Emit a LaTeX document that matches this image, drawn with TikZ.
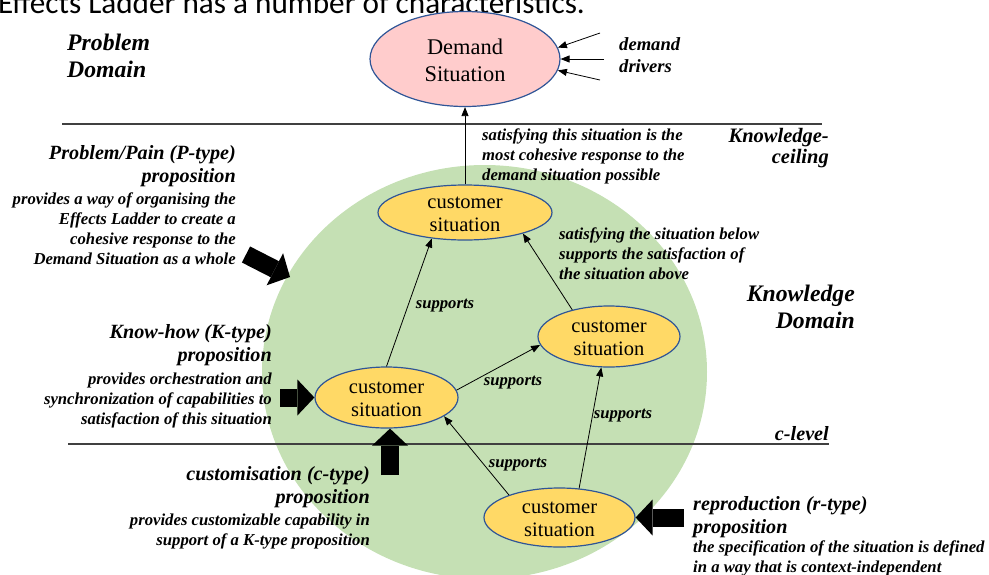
\documentclass[tikz,border=0pt]{standalone}
\usepackage{fontspec}
\setmainfont{Liberation Serif}
\newfontfamily\slidefont{Carlito}
\usetikzlibrary{
    arrows.meta,
    positioning,
    calc,
    shapes.geometric
}
\definecolor{areagreen}{RGB}{197,224,180}
\definecolor{demandpink}{RGB}{255,204,204}
\definecolor{sityellow}{RGB}{255,217,102}
\definecolor{rimblue}{RGB}{47,85,151}
\definecolor{levelgray}{RGB}{64,64,64}
\tikzset{
    % --- Knowledge domain (green background ellipse) ---
    area_fill/.style = {
        ellipse, fill=areagreen, draw=none, inner sep=0pt
    },
    % --- Demand situation ellipse ---
    demand_node/.style = {
        ellipse, draw=rimblue, line width=1.2pt, fill=demandpink,
        inner sep=0pt, minimum width=190pt, minimum height=95pt
    },
    % --- Customer situation ellipse ---
    sit_node/.style = {
        ellipse, draw=rimblue, line width=1.2pt, fill=sityellow,
        inner sep=0pt
    },
    % --- Text set inside an ellipse ---
    sit_text/.style = {
        align=center, inner sep=0pt,
        font=\fontsize{20.5}{23}\selectfont
    },
    % --- Domain names (bold italic, large) ---
    domain_lbl/.style = {
        inner sep=0pt,
        font=\bfseries\itshape\fontsize{23.7}{27}\selectfont
    },
    % --- Proposition heading / level name ---
    head_lbl/.style = {
        inner sep=0pt,
        font=\bfseries\itshape\fontsize{20.2}{23.5}\selectfont
    },
    % --- Explanation text under a heading ---
    note_lbl/.style = {
        inner sep=0pt,
        font=\bfseries\itshape\fontsize{16.7}{20}\selectfont
    },
    % --- Label on a supports arrow ---
    edge_lbl/.style = {
        inner sep=1pt,
        font=\bfseries\itshape\fontsize{16.7}{20}\selectfont
    },
    % --- Thin connector ---
    link/.style = {
        -{Triangle[length=9pt,width=7pt]}, line width=0.8pt
    },
    % --- Fat proposition arrow ---
    fat_arrow/.style = {
        -{Triangle[length=17pt,width=36pt,line width=0pt]}, line width=18pt
    },
    % --- Level line (knowledge ceiling, c-level) ---
    level_line/.style = {
        draw=levelgray, line width=1.3pt
    }
}

\begin{document}
\begin{tikzpicture}[x=1pt, y=-1pt]
\useasboundingbox (0,0) rectangle (989,574);
\clip (0,0) rectangle (989,574);

% ---------------------------------------------------------
% 0. Slide line (cut off at the top)
% ---------------------------------------------------------
\node[anchor=base west, inner sep=0pt, font=\slidefont\fontsize{31.2}{36}\selectfont]
    (SlideLine) at (-2,13) {Effects Ladder has a number of characteristics.};

% ---------------------------------------------------------
% 1. Knowledge domain and level lines
% ---------------------------------------------------------
\node[area_fill, minimum width=445pt, minimum height=414pt] (KnowArea) at (484.5,372) {};

\coordinate (CeilL) at (62,124);
\coordinate (CeilR) at (822,124);
\coordinate (CLevL) at (68,444);
\coordinate (CLevR) at (829,444);
\draw[level_line] (CeilL) -- (CeilR);
\draw[level_line] (CLevL) -- (CLevR);

% ---------------------------------------------------------
% 2. Situations
% ---------------------------------------------------------
\node[demand_node] (DemandSit) at (465,59) {};
\node[sit_text, font=\fontsize{22.4}{26.7}\selectfont, yshift=-1pt]
    (DemandTxt) at (DemandSit) {Demand\\Situation};

\node[sit_node, minimum width=174pt, minimum height=55pt] (CSTop)  at (465,212.5) {};
\node[sit_node, minimum width=142pt, minimum height=61pt] (CSMid)  at (609,336.5) {};
\node[sit_node, minimum width=143pt, minimum height=61pt] (CSLeft) at (386.5,397.5) {};
\node[sit_node, minimum width=151pt, minimum height=59pt] (CSBot)  at (559.5,517.5) {};

\node[sit_text, yshift=-1.5pt] (CSTopTxt)  at (CSTop)  {customer\\situation};
\node[sit_text, yshift=-1.5pt] (CSMidTxt)  at (CSMid)  {customer\\situation};
\node[sit_text, yshift=-1.5pt] (CSLeftTxt) at (CSLeft) {customer\\situation};
\node[sit_text, yshift=-1.5pt] (CSBotTxt)  at (CSBot)  {customer\\situation};

% ---------------------------------------------------------
% 3. Support links
% ---------------------------------------------------------
\draw[link] (CSTop.north) -- (DemandSit.south);
\draw[link] (CSLeft.north) -- (CSTop.218);
\draw[link] (CSMid.144) -- (CSTop.340);
\draw[link] (CSLeft.6) -- (CSMid.187);
\draw[link] (CSBot.156) -- (CSLeft.342);
\draw[link] (CSBot.56) -- (CSMid.256);

\node[edge_lbl] (SupA) at (445,306) {supports};
\node[edge_lbl] (SupB) at (513,383) {supports};
\node[edge_lbl] (SupC) at (623,416) {supports};
\node[edge_lbl] (SupD) at (518,465) {supports};

% Demand drivers
\coordinate (DrvA) at (600,33);
\coordinate (DrvB) at (604,59);
\coordinate (DrvC) at (600,80);
\draw[link] (DrvA) -- (DemandSit.7);
\draw[link] (DrvB) -- (DemandSit.east);
\draw[link] (DrvC) -- (DemandSit.-7);

% ---------------------------------------------------------
% 4. Proposition arrows
% ---------------------------------------------------------
\coordinate (PTail) at (246,254.5);
\coordinate (PTip)  at (290,277);
\coordinate (KTail) at (280,397.5);
\coordinate (CTail) at (390,475);
\coordinate (RTail) at (684,517.5);

\draw[fat_arrow] (PTail) -- (PTip);
\draw[fat_arrow] (KTail) -- (CSLeft.west);
\draw[fat_arrow] (CTail) -- (CTail |- CSLeft.south);
\draw[fat_arrow] (RTail) -- (CSBot.east);

% ---------------------------------------------------------
% 5. Labels
% ---------------------------------------------------------
\node[domain_lbl, anchor=north west, align=left] (ProbDomain) at (67,34) {Problem\\Domain};
\node[domain_lbl, anchor=north east, align=right] (KnowDomain) at (855,285) {Knowledge\\Domain};

\node[note_lbl, anchor=north west, align=left, font=\bfseries\itshape\fontsize{18.6}{22.7}\selectfont]
    (DrvLabel) at (619,37) {demand\\drivers};
\node[head_lbl, anchor=north east, align=right, font=\bfseries\itshape\fontsize{20.5}{21.5}\selectfont]
    (CeilLabel) at (829,128) {Knowledge-\\ceiling};
\node[head_lbl, anchor=north east] (CLevLabel) at (829,426) {c-level};

\node[note_lbl, anchor=north west, align=left] (SatTop) at (482,129)
    {satisfying this situation is the\\most cohesive response to the\\demand situation possible};
\node[note_lbl, anchor=north west, align=left] (SatMid) at (559,228)
    {satisfying the situation below\\supports the satisfaction of\\the situation above};

% P-type
\node[head_lbl, anchor=north east, align=right] (PHead) at (236,145)
    {Problem/Pain (P-type)\\proposition};
\node[note_lbl, anchor=north east, align=right] (PNote) at (236,193)
    {provides a way of organising the\\Effects Ladder to create a\\cohesive response to the\\Demand Situation as a whole};

% K-type
\node[head_lbl, anchor=north east, align=right] (KHead) at (272,324)
    {Know-how (K-type)\\proposition};
\node[note_lbl, anchor=north east, align=right] (KNote) at (272,373)
    {provides orchestration and\\synchronization of capabilities to\\satisfaction of this situation};

% c-type
\node[head_lbl, anchor=north east, align=right] (CHead) at (370,466)
    {customisation (c-type)\\proposition};
\node[note_lbl, anchor=north east, align=right] (CNote) at (370,514)
    {provides customizable capability in\\support of a K-type proposition};

% r-type
\node[head_lbl, anchor=north west, align=left] (RHead) at (693,496)
    {reproduction (r-type)\\proposition};
\node[note_lbl, anchor=north west, align=left] (RNote) at (693,541)
    {the specification of the situation is defined\\in a way that is context-independent};

\end{tikzpicture}
\end{document}
